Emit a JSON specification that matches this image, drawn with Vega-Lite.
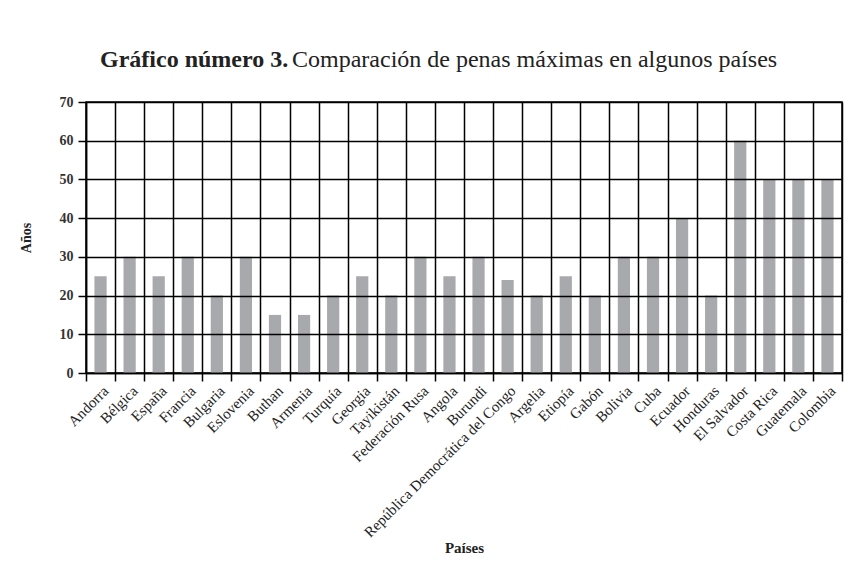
{
  "$schema": "https://vega.github.io/schema/vega-lite/v6.json",
  "width": 756,
  "height": 271,
  "autosize": {"type": "none"},
  "padding": {"left": 86, "top": 102, "right": 15, "bottom": 189},
  "background": "white",
  "config": {"view": {"stroke": "black", "strokeWidth": 1.5}, "font": "Liberation Serif"},
  "title": {
    "text": "Gráfico número 3.",
    "subtitle": "\u200b\u00a0\u00a0\u00a0\u00a0\u00a0\u00a0\u00a0\u00a0\u00a0\u00a0\u00a0\u00a0\u00a0\u00a0\u00a0\u00a0\u00a0\u00a0\u00a0\u00a0\u00a0\u00a0\u00a0\u00a0\u00a0\u00a0\u00a0\u00a0\u00a0\u00a0\u00a0\u00a0Comparación de penas máximas en algunos países",
    "anchor": "start",
    "frame": "group",
    "dx": 14,
    "offset": 23,
    "font": "Liberation Serif",
    "fontSize": 24,
    "fontWeight": "bold",
    "color": "#222",
    "subtitleFont": "Liberation Serif",
    "subtitleFontSize": 24,
    "subtitleFontWeight": "normal",
    "subtitleColor": "#222",
    "subtitlePadding": -24
  },
  "data": {
    "values": [
      {"pais": "Andorra", "anos": 25},
      {"pais": "Bélgica", "anos": 30},
      {"pais": "España", "anos": 25},
      {"pais": "Francia", "anos": 30},
      {"pais": "Bulgaria", "anos": 20},
      {"pais": "Eslovenia", "anos": 30},
      {"pais": "Buthan", "anos": 15},
      {"pais": "Armenia", "anos": 15},
      {"pais": "Turquía", "anos": 20},
      {"pais": "Georgia", "anos": 25},
      {"pais": "Tayikistán", "anos": 20},
      {"pais": "Federación Rusa", "anos": 30},
      {"pais": "Angola", "anos": 25},
      {"pais": "Burundi", "anos": 30},
      {"pais": "República Democrática del Congo", "anos": 24},
      {"pais": "Argelia", "anos": 20},
      {"pais": "Etiopía", "anos": 25},
      {"pais": "Gabón", "anos": 20},
      {"pais": "Bolivia", "anos": 30},
      {"pais": "Cuba", "anos": 30},
      {"pais": "Ecuador", "anos": 40},
      {"pais": "Honduras", "anos": 20},
      {"pais": "El Salvador", "anos": 60},
      {"pais": "Costa Rica", "anos": 50},
      {"pais": "Guatemala", "anos": 50},
      {"pais": "Colombia", "anos": 50}
    ]
  },
  "mark": {"type": "bar", "color": "#a8a9ac", "width": {"band": 0.42}},
  "encoding": {
    "x": {
      "field": "pais",
      "type": "nominal",
      "sort": null,
      "scale": {"paddingInner": 0, "paddingOuter": 0},
      "axis": {
        "title": "Países",
        "tickBand": "extent",
        "grid": true,
        "gridColor": "black",
        "gridWidth": 1.5,
        "gridOpacity": 1,
        "domainColor": "black",
        "domainWidth": 1.5,
        "tickColor": "black",
        "tickWidth": 1.5,
        "tickSize": 8,
        "labelAngle": -45,
        "labelFont": "Liberation Serif",
        "labelFontSize": 15,
        "labelColor": "#222",
        "labelPadding": 2,
        "labelLimit": 400,
        "labelOverlap": false,
        "titleFont": "Liberation Serif",
        "titleFontSize": 15,
        "titleFontWeight": "bold",
        "titleColor": "#222",
        "titlePadding": 1,
        "zindex": 1
      }
    },
    "y": {
      "field": "anos",
      "type": "quantitative",
      "scale": {"domain": [0, 70], "nice": false},
      "axis": {
        "title": "Años",
        "values": [0, 10, 20, 30, 40, 50, 60, 70],
        "grid": true,
        "gridColor": "black",
        "gridWidth": 1.5,
        "gridOpacity": 1,
        "domainColor": "black",
        "domainWidth": 1.5,
        "tickColor": "black",
        "tickWidth": 1.5,
        "tickSize": 8,
        "labelFont": "Liberation Serif",
        "labelFontSize": 14,
        "labelFontWeight": "bold",
        "labelColor": "#333",
        "labelPadding": 5,
        "titleFont": "Liberation Serif",
        "titleFontSize": 14,
        "titleFontWeight": "bold",
        "titleColor": "#222",
        "titlePadding": 26,
        "zindex": 1
      }
    }
  }
}
